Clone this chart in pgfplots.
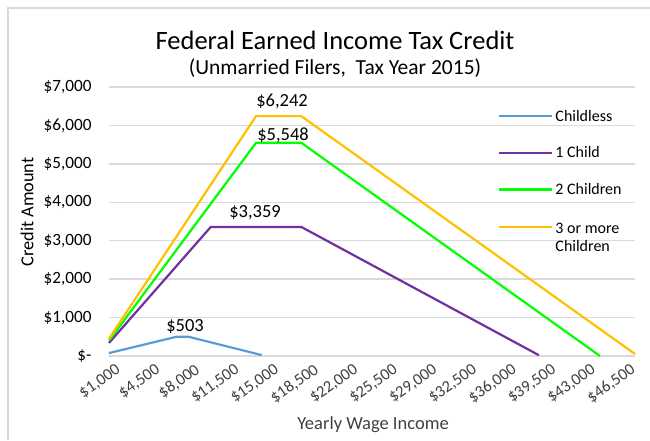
\documentclass[border=0pt]{standalone}
\usepackage{pgfplots}
\pgfplotsset{compat=1.18}
\usepackage{fontspec}
\setmainfont{Carlito}
\definecolor{cBlue}{HTML}{5B9BD5}
\definecolor{cPurple}{HTML}{7030A0}
\definecolor{cGreen}{HTML}{00FF00}
\definecolor{cOrange}{HTML}{FFC000}
\definecolor{cGrid}{HTML}{D9D9D9}
\definecolor{cText}{HTML}{404040}
\newcommand\yl[1]{\mbox{\fontsize{17.2}{19}\selectfont #1}}
\newcommand\xl[1]{\mbox{\fontsize{16.5}{18}\selectfont #1}}
\begin{document}
\begin{tikzpicture}
\begin{axis}[
  at={(0,0)}, anchor=south west,
  scale only axis, width=526pt, height=269pt,
  xmin=1000, xmax=47500, ymin=0, ymax=7000,
  scaled ticks=false,
  axis line style={draw=none},
  ymajorgrids, grid style={cGrid, line width=1.3pt},
  xtick={1000,4500,8000,11500,15000,18500,22000,25500,29000,32500,36000,39500,43000,46500},
  xticklabels={\xl{\$1,000},\xl{\$4,500},\xl{\$8,000},\xl{\$11,500},\xl{\$15,000},\xl{\$18,500},\xl{\$22,000},\xl{\$25,500},\xl{\$29,000},\xl{\$32,500},\xl{\$36,000},\xl{\$39,500},\xl{\$43,000},\xl{\$46,500}},
  ytick={0,1000,2000,3000,4000,5000,6000,7000},
  yticklabels={\yl{\$-},\yl{\$1,000},\yl{\$2,000},\yl{\$3,000},\yl{\$4,000},\yl{\$5,000},\yl{\$6,000},\yl{\$7,000}},
  major tick length=0pt,
  xticklabel style={rotate=35, anchor=north east, text=cText, inner sep=1pt, yshift=-8pt, xshift=2pt},
  yticklabel style={text=black, xshift=-14pt},
  clip=false,
  legend style={at={(0.734,0.93)}, anchor=north west, draw=none, fill=none,
    font=\fontsize{16}{19}\selectfont, row sep=20pt, cells={anchor=west}},
  legend image code/.code={\draw[#1] (0pt,0pt) -- (53pt,0pt);},
  every axis plot/.append style={line width=2.2pt, mark=none},
]
\addplot[cBlue] coordinates {(1000,76.5) (7000,503) (8000,503) (14500,24)};
\addlegendentry{Childless}
\addplot[cPurple] coordinates {(1000,340) (10000,3359) (18000,3359) (39000,21)};
\addlegendentry{1 Child}
\addplot[cGreen] coordinates {(1000,400) (14000,5548) (18000,5548) (44400,0)};
\addlegendentry{2 Children}
\addplot[cOrange] coordinates {(1000,450) (14000,6242) (18000,6242) (47500,52)};
\addlegendentry{\begin{tabular}[t]{@{}l@{}}3 or more\\[-1pt]Children\end{tabular}}
\node[font=\fontsize{18.5}{20}\selectfont] at (axis cs:7719,755) {\$503};
\node[font=\fontsize{18.5}{20}\selectfont] at (axis cs:13907,3721) {\$3,359};
\node[font=\fontsize{18.5}{20}\selectfont] at (axis cs:16382,5751) {\$5,548};
\node[font=\fontsize{18.5}{20}\selectfont] at (axis cs:16294,6636) {\$6,242};
\end{axis}
\node[font=\fontsize{26.5}{30}\selectfont] at (226pt,316pt) {Federal Earned Income Tax Credit};
\node[font=\fontsize{21.5}{25}\selectfont] at (226pt,288pt) {(Unmarried Filers,\ \ Tax Year 2015)};
\node[font=\fontsize{18.3}{20}\selectfont, rotate=90] at (-82pt,144pt) {Credit Amount};
\node[font=\fontsize{18.5}{20}\selectfont, text=cText] at (264pt,-69pt) {Yearly Wage Income};
\draw[cGrid, line width=1.5pt] (-101pt,-84pt) -- (-101pt,348pt) -- (541pt,348pt);
\pgfresetboundingbox
\path[use as bounding box] (-109pt,-84pt) rectangle (541pt,356pt);
\end{tikzpicture}
\end{document}
